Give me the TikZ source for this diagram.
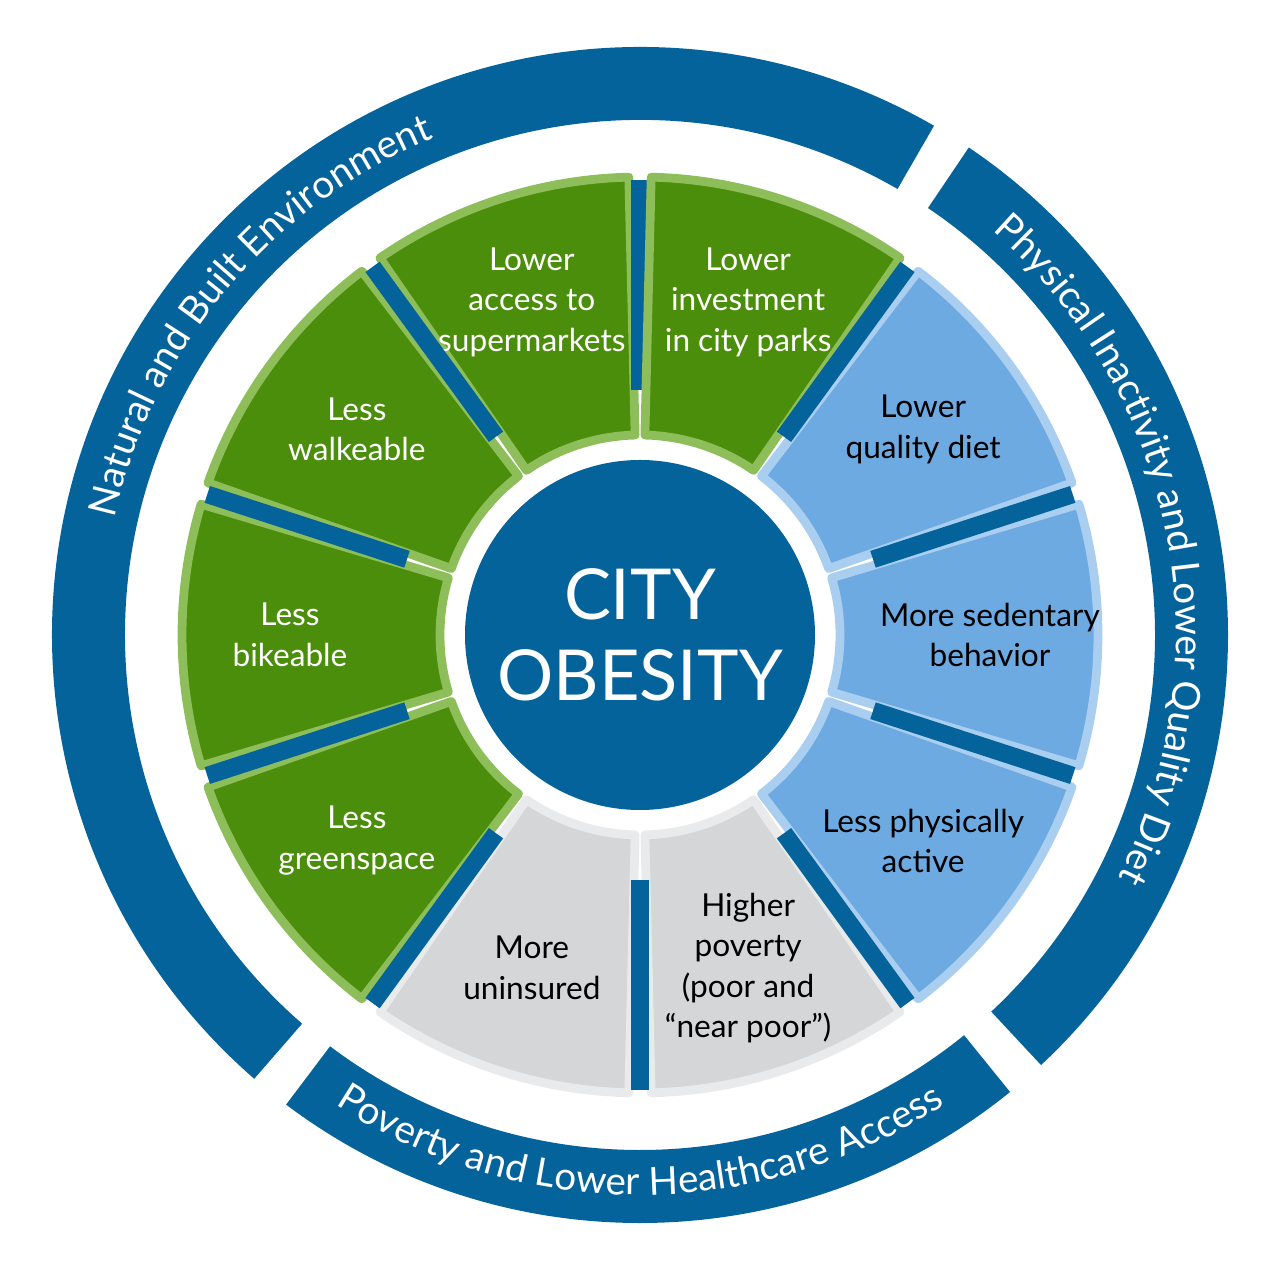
\documentclass[tikz,border=0pt]{standalone}
\usepackage{fontspec}
\setmainfont{Lato}
\usetikzlibrary{decorations.text}
\definecolor{darkblue}{HTML}{05639C}
\definecolor{segGreen}{HTML}{4B8E0B}
\definecolor{rimGreen}{HTML}{8DBE5A}
\definecolor{segBlue}{HTML}{6DAAE2}
\definecolor{rimBlue}{HTML}{A9CEF0}
\definecolor{segGrey}{HTML}{D4D6D8}
\definecolor{rimGrey}{HTML}{E9EAEB}
\tikzset{
  seglabel/.style={align=center,font=\fontsize{9}{11.5}\selectfont,inner sep=0pt},
  ringtext/.style={decorate,decoration={text along path,text align=center,
    text={|\color{white}\fontsize{11}{13}\selectfont|#1}}}
}
\begin{document}
\begin{tikzpicture}
\useasboundingbox (-6.4,-6.42) rectangle (6.4,6.35);
% outer ring
\foreach \a/\b in {59/230, 232/310, 312/417}
  \fill[darkblue] (\a+1:5.15) arc (\a+1:\b-1:5.15) -- (\b-1:5.88) arc (\b-1:\a+1:5.88) -- cycle;
\path[ringtext={Natural and Built Environment}] (180:5.38) arc (180:100:5.38);
\path[ringtext={Physical Inactivity and Lower Quality Diet}] (62:5.36) arc (62:-40:5.36);
\path[ringtext={Poverty and Lower Healthcare Access}] (231:5.6) arc (231:309:5.6);
% segments
\foreach \a/\c/\r/\tc/\t/\n in {
  90/segGreen/rimGreen/white/{Lower\\access to\\supermarkets}/1,
  126/segGreen/rimGreen/white/{Less\\walkeable}/2,
  162/segGreen/rimGreen/white/{Less\\bikeable}/3,
  198/segGreen/rimGreen/white/{Less\\greenspace}/4,
  234/segGrey/rimGrey/black/{More\\uninsured}/5,
  270/segGrey/rimGrey/black/{Higher\\poverty\\(poor and\\“near poor”)}/6,
  306/segBlue/rimBlue/black/{Less physically\\active}/7,
  342/segBlue/rimBlue/black/{More sedentary\\behavior}/8,
  18/segBlue/rimBlue/black/{Lower\\quality diet}/9,
  54/segGreen/rimGreen/white/{Lower\\investment\\in city parks}/10}{
  \filldraw[fill=\c,draw=\r,line width=2.5pt,line join=round]
    (\a+1.4:2.0) arc (\a+1.4:\a+34.6:2.0) -- (\a+34.6:4.58) arc (\a+34.6:\a+1.4:4.58) -- cycle;
  \draw[darkblue,line width=5pt] (\a:2.45) -- (\a:4.55);
  \node[seglabel,text=\tc] (seg\n) at (\a+18:3.5) {\t};
}
% centre
\node[circle,fill=darkblue,minimum size=3.5cm,inner sep=0pt,text=white,align=center,
  font=\fontsize{20}{23}\selectfont] (core) at (0,0) {CITY\\OBESITY};
\end{tikzpicture}
\end{document}
